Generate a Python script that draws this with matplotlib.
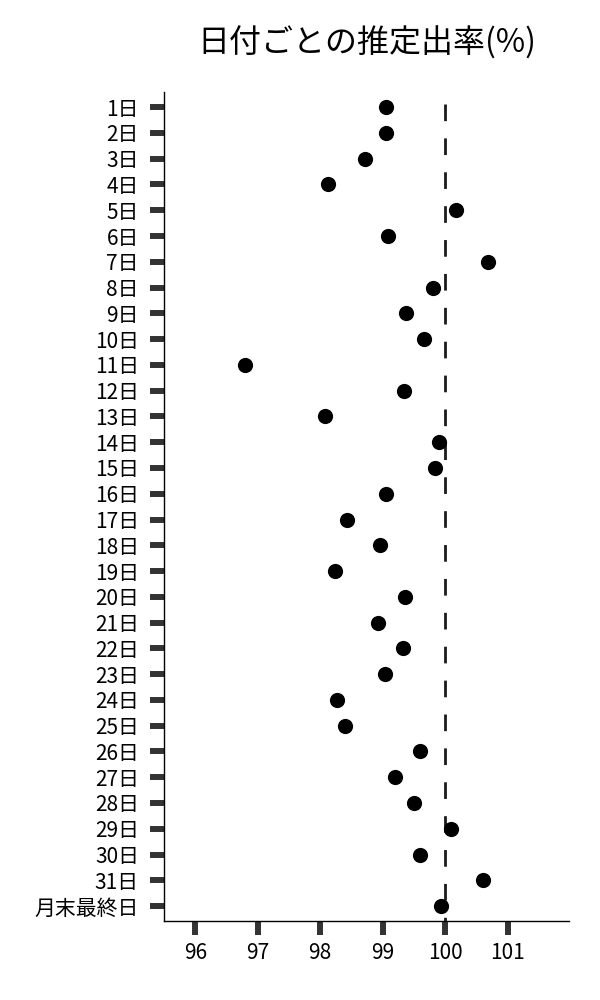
import matplotlib
matplotlib.use("Agg")
import matplotlib.pyplot as plt

plt.rcParams['font.family'] = ['Noto Sans CJK JP', 'DejaVu Sans']

categories = [f"{i}日" for i in range(1, 32)] + ["月末最終日"]
values = [99.06, 99.06, 98.71, 98.13, 100.18, 99.09, 100.68, 99.81, 99.38, 99.66,
          96.80, 99.34, 98.07, 99.90, 99.84, 99.05, 98.43, 98.96, 98.23, 99.36,
          98.92, 99.33, 99.03, 98.27, 98.40, 99.59, 99.20, 99.50, 100.10, 99.59,
          100.60, 99.93]
xticks = [96, 97, 98, 99, 100, 101]
reference = 100
title = "日付ごとの推定出率(%)"

fig = plt.figure(figsize=(6, 10), dpi=100)
ax = fig.add_axes([0.2733, 0.079, 0.675, 0.8285])

ypos = list(range(len(categories)))
ax.scatter(values, ypos, s=120, color='black', zorder=3, linewidths=0)
ax.plot([reference, reference], [-0.12, 31.6], color='#1a1a1a', lw=2.0,
        linestyle=(0, (6, 6.2)), zorder=2)

ax.set_xlim(95.5, 101.98)
ax.set_ylim(31.58, -0.57)
ax.set_yticks(ypos)
ax.set_yticklabels(categories)
ax.set_xticks(xticks)
ax.set_xticklabels([str(t) for t in xticks])

for s in ['top', 'right']:
    ax.spines[s].set_visible(False)
for s in ['left', 'bottom']:
    ax.spines[s].set_linewidth(1.0)
    ax.spines[s].set_color('black')

ax.tick_params(axis='both', length=10, width=4.3, color='#333333', labelsize=15)
ax.tick_params(axis='y', pad=8)
ax.tick_params(axis='x', pad=5)

fig.text(0.611, 0.957, title, ha='center', va='center', fontsize=23)

fig.savefig("out.png", dpi=100)
